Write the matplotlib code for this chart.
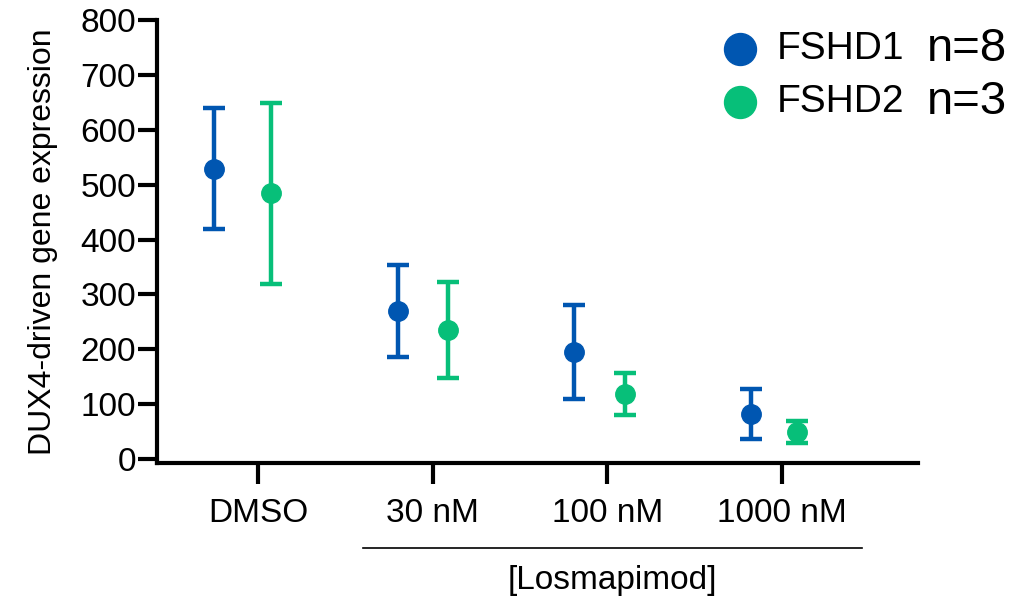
import matplotlib
matplotlib.use('Agg')
from matplotlib import pyplot as plt
from matplotlib import transforms
import numpy as np

plt.rcParams['font.family'] = ['Liberation Sans', 'DejaVu Sans']

blue = '#0056b1'
green = '#07bf79'

categories = ['DMSO', '30 nM', '100 nM', '1000 nM']

# FSHD1 (n=8)
fshd1_mean = [529, 269, 195, 82]
fshd1_err = [110, 84, 85, 46]
fshd1_x = [-0.25, -0.2, -0.19, -0.18]

# FSHD2 (n=3)
fshd2_mean = [484, 235, 118, 49]
fshd2_err = [165, 87, 38, 20]
fshd2_x = [0.075, 0.085, 0.1, 0.085]

fig = plt.figure(figsize=(10.22, 6.01), dpi=100)
ax = fig.add_axes([0.1536, 0.2296, 0.745, 0.7371])

pos = np.arange(len(categories))
for xs, m, e, c in [(fshd1_x, fshd1_mean, fshd1_err, blue),
                    (fshd2_x, fshd2_mean, fshd2_err, green)]:
    ax.errorbar(pos + np.array(xs), m, yerr=e, fmt='o', color=c, ms=14,
                elinewidth=3.2, capsize=8, capthick=3.2, zorder=3)

ax.set_xlim(-0.578, 3.78)
ax.set_ylim(-7.3, 800)
ax.set_yticks(np.arange(0, 801, 100))
ax.set_xticks(pos)
ax.set_xticklabels(categories)

for s in ['top', 'right']:
    ax.spines[s].set_visible(False)
for s in ['left', 'bottom']:
    ax.spines[s].set_linewidth(3)
ax.tick_params(axis='y', length=14, width=3, labelsize=24, pad=1)
ax.tick_params(axis='x', length=15, width=3, labelsize=24, pad=10)
ax.set_ylabel('DUX4-driven gene expression', fontsize=23, labelpad=16)

# bracket under the Losmapimod doses
trans = transforms.blended_transform_factory(ax.transData, fig.transFigure)
ax.plot([0.60, 3.46], [1 - 548 / 601, 1 - 548 / 601], color='black', lw=1.2,
        transform=trans, clip_on=False)
fig.text(612 / 1022, 1 - 581 / 601, '[Losmapimod]', fontsize=24,
         ha='center', va='center')

# legend
for yy, c, name, n in [(49, blue, 'FSHD1', 'n=8'), (102, green, 'FSHD2', 'n=3')]:
    fy = 1 - yy / 601
    fig.lines.append(plt.Line2D([740 / 1022], [fy], marker='o', ms=23,
                                color=c, transform=fig.transFigure))
    fig.text(777 / 1022, fy, name, fontsize=28, va='center')
    fig.text(927 / 1022, fy, n, fontsize=34, va='center')

fig.savefig('out.png', dpi=100)
